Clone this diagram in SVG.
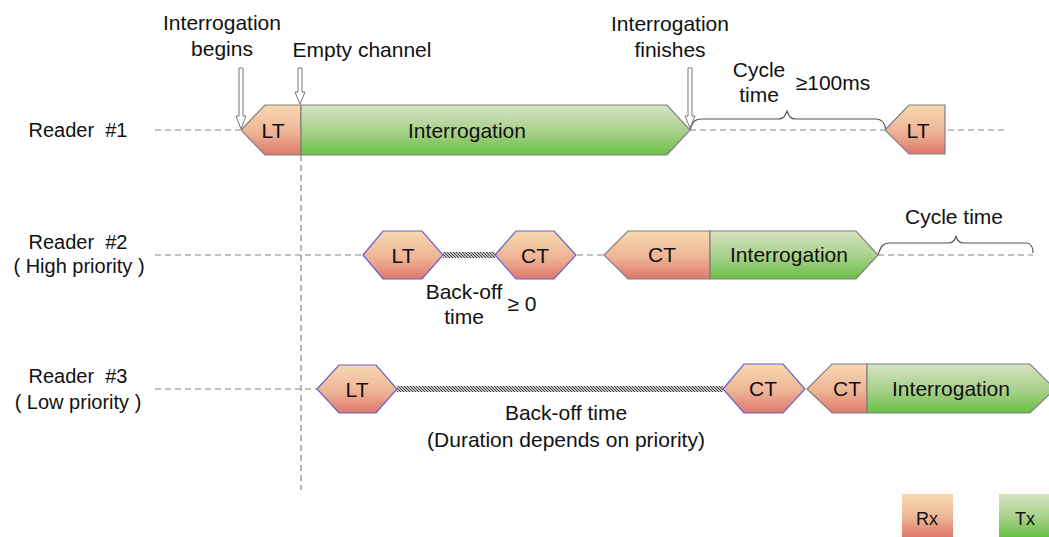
<svg xmlns="http://www.w3.org/2000/svg" width="1049" height="537" viewBox="0 0 1049 537">
<defs>
<linearGradient id="rx" x1="0" y1="0" x2="0" y2="1">
<stop offset="0" stop-color="#f7d9b0"/><stop offset="0.55" stop-color="#eeb496"/><stop offset="1" stop-color="#dd786b"/>
</linearGradient>
<linearGradient id="tx" x1="0" y1="0" x2="0" y2="1">
<stop offset="0" stop-color="#d6e3c4"/><stop offset="0.55" stop-color="#a6d088"/><stop offset="1" stop-color="#68bf44"/>
</linearGradient>
<pattern id="hatch" patternUnits="userSpaceOnUse" width="3" height="3">
<rect width="3" height="3" fill="#fff"/>
<path d="M0,0 L3,3 M-1,2 L1,4 M2,-1 L4,1" stroke="#333" stroke-width="1.1"/>
</pattern>
</defs>
<style>
text{font-family:"Liberation Sans",Arial,sans-serif;font-size:21px;fill:#111;text-anchor:middle}
.rd{font-size:20px}
.lg{font-size:18px}
.dash{stroke:#888;stroke-width:1.2;stroke-dasharray:6 4;fill:none}
.pent{stroke:#808080;stroke-width:1.2}
.hex{fill:url(#rx);stroke:#6a5fd0;stroke-width:1.2}
.rx{fill:url(#rx)}
.tx{fill:url(#tx)}
.arr{fill:#fff;stroke:#777;stroke-width:1}
.brace{fill:none;stroke:#555;stroke-width:1.2}
.hatch{fill:url(#hatch)}
</style>

<g id="connectors">
<line class="dash" x1="155" y1="130" x2="240" y2="130"/>
<line class="dash" x1="690" y1="130" x2="885" y2="130"/>
<line class="dash" x1="948" y1="130" x2="1005" y2="130"/>
<line class="dash" x1="155" y1="255" x2="363" y2="255"/>
<line class="dash" x1="577" y1="255" x2="604" y2="255"/>
<line class="dash" x1="878" y1="255" x2="1033" y2="255"/>
<line class="dash" x1="155" y1="389" x2="317" y2="389"/>
<line class="dash" x1="301" y1="155" x2="301" y2="490"/>
<rect class="hatch" x="443" y="252" width="52" height="6"/>
<rect class="hatch" x="397" y="386" width="326" height="6"/>
<path class="brace" d="M690,130 C693,120 696,119 702,119 L778,119 C784,119 785,116 787,111 C789,116 790,119 796,119 L876,119 C882,119 885,123 886,130"/>
<path class="brace" d="M878,255 C881,245 884,243 890,243 L948,243 C953,243 955,240 956,236 C957,240 959,243 964,243 L1026,243 C1031,243 1033,247 1033,253"/>
<polygon class="arr" points="239,68 243,68 243,116 246,116 241,129 236,116 239,116"/>
<polygon class="arr" points="298,68 302,68 302,92 305,92 300,104 295,92 298,92"/>
<polygon class="arr" points="688,68 692,68 692,116 695,116 690,128 685,116 688,116"/>
</g>

<g id="labels">
<text class="rd" x="78" y="137">Reader&#160; #1</text>
<text class="rd" x="78" y="249">Reader&#160; #2</text>
<text class="rd" x="79" y="273">( High priority )</text>
<text class="rd" x="78" y="383">Reader&#160; #3</text>
<text class="rd" x="78" y="409">( Low priority )</text>
<text x="222" y="30">Interrogation</text>
<text x="222" y="56">begins</text>
<text x="362" y="57">Empty channel</text>
<text x="670" y="31">Interrogation</text>
<text x="670" y="57">finishes</text>
<text x="759" y="77">Cycle</text>
<text x="759" y="102">time</text>
<text x="833" y="90">≥100ms</text>
<text x="954" y="224">Cycle time</text>
<text x="464" y="299">Back-off</text>
<text x="464" y="324">time</text>
<text x="522" y="311">≥ 0</text>
<text x="566" y="420">Back-off time</text>
<text x="566" y="447">(Duration depends on priority)</text>
</g>

<g id="r1-lt">
<polygon class="pent rx" points="241,130 265,105 301,105 301,155 265,155"/>
<text x="273" y="138">LT</text>
</g>
<g id="r1-interrogation">
<polygon class="pent tx" points="301,105 667,105 690,130 667,155 301,155"/>
<text x="467" y="138">Interrogation</text>
</g>
<g id="r1-lt2">
<polygon class="pent rx" points="885,130 909,105 945,105 945,154 909,154"/>
<text x="918" y="138">LT</text>
</g>

<g id="r2-lt">
<polygon class="hex" points="363,255 383,231 422,231 443,255 422,279 383,279"/>
<text x="403" y="263">LT</text>
</g>
<g id="r2-ct">
<polygon class="hex" points="495,255 516,231 554,231 576,255 554,279 516,279"/>
<text x="535" y="263">CT</text>
</g>
<g id="r2-ct2">
<polygon class="pent rx" points="604,255 628,231 710,231 710,279 628,279"/>
<text x="662" y="262">CT</text>
</g>
<g id="r2-interrogation">
<polygon class="pent tx" points="710,231 856,231 878,255 856,279 710,279"/>
<text x="789" y="262">Interrogation</text>
</g>

<g id="r3-lt">
<polygon class="hex" points="317,389 339,365 376,365 397,389 376,413 339,413"/>
<text x="357" y="397">LT</text>
</g>
<g id="r3-ct">
<polygon class="hex" points="723,389 744,364 783,364 805,389 783,413 744,413"/>
<text x="763" y="396">CT</text>
</g>
<g id="r3-ct2">
<polygon class="pent rx" points="807,389 832,364 867,364 867,413 832,413"/>
<text x="847" y="396">CT</text>
</g>
<g id="r3-interrogation">
<polygon class="pent tx" points="867,364 1030,364 1055,389 1030,413 867,413"/>
<text x="951" y="396">Interrogation</text>
</g>

<g id="legend-rx">
<rect class="rx" x="902" y="494" width="51" height="43"/>
<text class="lg" x="927" y="525">Rx</text>
</g>
<g id="legend-tx">
<rect class="tx" x="999" y="494" width="50" height="43"/>
<text class="lg" x="1025" y="525">Tx</text>
</g>
</svg>
